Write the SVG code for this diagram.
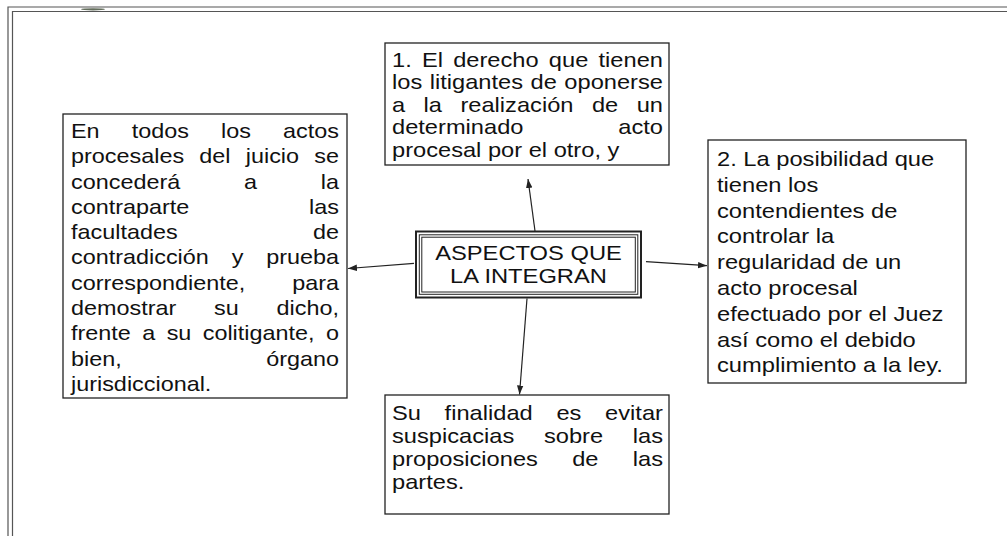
<svg xmlns="http://www.w3.org/2000/svg" width="1007" height="539" viewBox="0 0 1007 539">
<style>
  .frame{fill:none;stroke:#555;stroke-width:1.2}
  .box{fill:#fff;stroke:#222;stroke-width:1.3}
  .cb{fill:none;stroke:#222}
  .t{font-family:"Liberation Sans",Arial,sans-serif;font-size:20px;fill:#111}
  .ct{font-family:"Liberation Sans",Arial,sans-serif;font-size:21px;fill:#111;text-anchor:middle}
  .conn{fill:none;stroke:#222;stroke-width:1.2}
</style>
<defs>
  <marker id="ah" markerUnits="userSpaceOnUse" markerWidth="10" markerHeight="8" refX="9" refY="4" orient="auto">
    <path d="M0,0.8 L9,4 L0,7.2 Z" fill="#222"/>
  </marker>
</defs>
<rect width="1007" height="539" fill="#fff"/>
<g id="frame">
  <path class="frame" d="M8,536 V7 H1007"/>
  <path class="frame" d="M12.5,536 V11.5 H1007"/>
  <ellipse cx="93" cy="9.3" rx="12" ry="1.1" fill="#3d4a35" opacity="0.8"/>
</g>
<g id="connectors">
  <path class="conn" d="M535,231 L528,179" marker-end="url(#ah)"/>
  <path class="conn" d="M414,263.3 L348,268.5" marker-end="url(#ah)"/>
  <path class="conn" d="M646,261.7 L707,265.7" marker-end="url(#ah)"/>
  <path class="conn" d="M527,298.5 L519.5,394.5" marker-end="url(#ah)"/>
</g>
<g id="node-center">
  <rect class="cb" x="416" y="231.5" width="225" height="66" stroke-width="2"/>
  <rect class="cb" x="419.3" y="234.8" width="218.5" height="59.5" stroke-width="1"/>
  <rect class="cb" x="421.8" y="237.2" width="213.5" height="54.8" stroke-width="1"/>
  <text class="ct" transform="translate(528.5,260) scale(1.13,1)">ASPECTOS QUE</text>
  <text class="ct" transform="translate(528.5,283) scale(1.13,1)">LA INTEGRAN</text>
</g>
<g id="node-top">
  <rect class="box" x="385" y="43" width="284" height="122"/>
  <g class="t" transform="translate(392,0) scale(1.183,1)">
    <text y="67"><tspan x="0">1. </tspan><tspan x="25.3">El </tspan><tspan x="51.71">derecho </tspan><tspan x="132.6">que </tspan><tspan x="174.58">tienen</tspan></text>
    <text y="89.5"><tspan x="0">los </tspan><tspan x="31.88">litigantes </tspan><tspan x="117.12">de </tspan><tspan x="145.68">oponerse</tspan></text>
    <text y="112"><tspan x="0">a </tspan><tspan x="26.7">la </tspan><tspan x="57.84">realización </tspan><tspan x="169">de </tspan><tspan x="206.82">un</tspan></text>
    <text y="134.5"><tspan x="0">determinado </tspan><tspan x="191.26">acto</tspan></text>
    <text y="157" x="0">procesal por el otro, y</text>
  </g>
</g>
<g id="node-left">
  <rect class="box" x="63" y="114" width="284" height="284"/>
  <g class="t" transform="translate(71,0) scale(1.17,1)">
    <text y="138"><tspan x="0">En </tspan><tspan x="51.9">todos </tspan><tspan x="128.26">los </tspan><tspan x="181.26">actos</tspan></text>
    <text y="163.3"><tspan x="0">procesales </tspan><tspan x="109.7">del </tspan><tspan x="149.38">juicio </tspan><tspan x="207.94">se</tspan></text>
    <text y="188.6"><tspan x="0">concederá </tspan><tspan x="147.88">a </tspan><tspan x="213.5">la</tspan></text>
    <text y="213.9"><tspan x="0">contraparte </tspan><tspan x="203.5">las</tspan></text>
    <text y="239.2"><tspan x="0">facultades </tspan><tspan x="206.82">de</tspan></text>
    <text y="264.5"><tspan x="0">contradicción </tspan><tspan x="137.31">y </tspan><tspan x="166.8">prueba</tspan></text>
    <text y="289.8"><tspan x="0">correspondiente, </tspan><tspan x="189.04">para</tspan></text>
    <text y="315.1"><tspan x="0">demostrar </tspan><tspan x="122.3">su </tspan><tspan x="175.7">dicho,</tspan></text>
    <text y="340.4"><tspan x="0">frente </tspan><tspan x="60.88">a </tspan><tspan x="81.74">su </tspan><tspan x="112.6">colitigante, </tspan><tspan x="217.94">o</tspan></text>
    <text y="365.7"><tspan x="0">bien, </tspan><tspan x="166.8">órgano</tspan></text>
    <text y="391" x="0">jurisdiccional.</text>
  </g>
</g>
<g id="node-right">
  <rect class="box" x="708" y="140" width="258" height="243"/>
  <g class="t" transform="translate(717,0) scale(1.185,1)">
    <text x="0" y="166">2. La posibilidad que</text>
    <text x="0" y="191.8">tienen los</text>
    <text x="0" y="217.6">contendientes de</text>
    <text x="0" y="243.4">controlar la</text>
    <text x="0" y="269.2">regularidad de un</text>
    <text x="0" y="295">acto procesal</text>
    <text x="0" y="320.8">efectuado por el Juez</text>
    <text x="0" y="346.6">así como el debido</text>
    <text x="0" y="372.4">cumplimiento a la ley.</text>
  </g>
</g>
<g id="node-bottom">
  <rect class="box" x="385" y="395" width="284" height="119"/>
  <g class="t" transform="translate(392,0) scale(1.183,1)">
    <text y="420"><tspan x="0">Su </tspan><tspan x="44.49">finalidad </tspan><tspan x="139">es </tspan><tspan x="180.16">evitar</tspan></text>
    <text y="443"><tspan x="0">suspicacias </tspan><tspan x="128.42">sobre </tspan><tspan x="203.5">las</tspan></text>
    <text y="466"><tspan x="0">proposiciones </tspan><tspan x="152.32">de </tspan><tspan x="203.5">las</tspan></text>
    <text y="489" x="0">partes.</text>
  </g>
</g>
</svg>
